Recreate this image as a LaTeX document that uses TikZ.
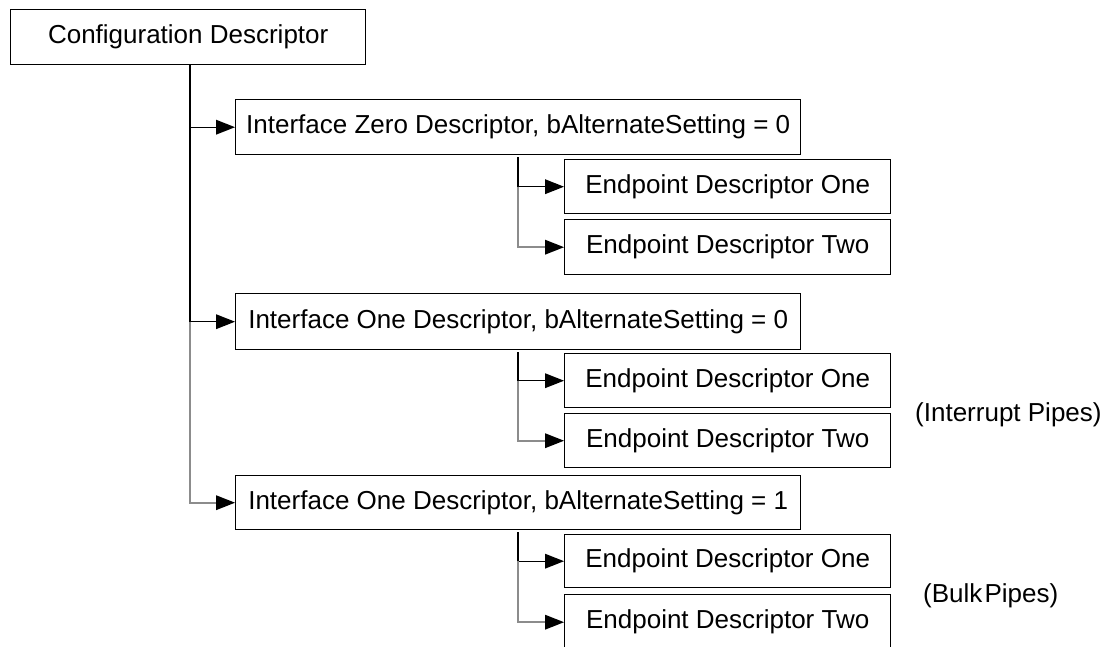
\documentclass[tikz,border=0pt]{standalone}
\usepackage{fontspec}
\setmainfont{Liberation Sans}
\usetikzlibrary{arrows.meta}
\begin{document}
\begin{tikzpicture}[x=1pt, y=-1pt,
  box/.style={draw, line width=1.4pt, rectangle, inner sep=0pt, anchor=north west,
    font=\fontsize{26}{30}\selectfont},
  cfgbox/.style={box, minimum width=355pt, minimum height=55pt},
  ifbox/.style={box, minimum width=565pt, minimum height=55pt},
  epbox/.style={box, minimum width=326pt, minimum height=54pt},
  link/.style={line width=1.3pt, -{Triangle[length=19pt, width=15pt, color=black, line width=0pt]}},
  firstlink/.style={link, draw=black},
  laterlink/.style={link, draw=black!45, line width=1.7pt},
  note/.style={anchor=west, inner sep=0pt, font=\fontsize{26}{30}\selectfont}]
\useasboundingbox (0,0) rectangle (1118,646);

% descriptor boxes
\node[cfgbox] (cfg) at (10,9) {Configuration Descriptor};

\node[ifbox, minimum height=55pt] (if0) at (235,99) {Interface Zero Descriptor, bAlternateSetting = 0};
\node[epbox] (ep01) at (564,159) {Endpoint Descriptor One};
\node[epbox, minimum height=55pt] (ep02) at (564,219) {Endpoint Descriptor Two};

\node[ifbox, minimum height=56pt] (if1) at (235,293) {Interface One Descriptor, bAlternateSetting = 0};
\node[epbox] (ep11) at (564,353) {Endpoint Descriptor One};
\node[epbox] (ep12) at (564,413) {Endpoint Descriptor Two};

\node[ifbox, minimum height=54pt] (if2) at (235,475) {Interface One Descriptor, bAlternateSetting = 1};
\node[epbox, minimum height=53pt] (ep21) at (564,534) {Endpoint Descriptor One};
\node[epbox, minimum height=55pt] (ep22) at (564,594) {Endpoint Descriptor Two};

% pipe annotations
\node[note] (intr) at (915,415) {(Interrupt Pipes)};
\node[note] (bulk) at (923,596) {(Bulk\hspace{0.08em}Pipes)};

% branch origins
\coordinate (trunk) at (190,64);
\coordinate (b0) at (518,157);
\coordinate (b1) at (518,352);
\coordinate (b2) at (518,532);

% configuration -> interfaces
\draw[firstlink] (trunk) |- (if0.west);
\draw[firstlink] (trunk) |- (if1.west);
\draw[laterlink] (trunk |- if1.west) |- (if2.west);

% interfaces -> endpoints
\draw[firstlink] (b0) |- (ep01.west);
\draw[laterlink] (b0 |- ep01.west) |- (ep02.west);
\draw[firstlink] (b1) |- (ep11.west);
\draw[laterlink] (b1 |- ep11.west) |- (ep12.west);
\draw[firstlink] (b2) |- (ep21.west);
\draw[laterlink] (b2 |- ep21.west) |- (ep22.west);
\end{tikzpicture}
\end{document}
